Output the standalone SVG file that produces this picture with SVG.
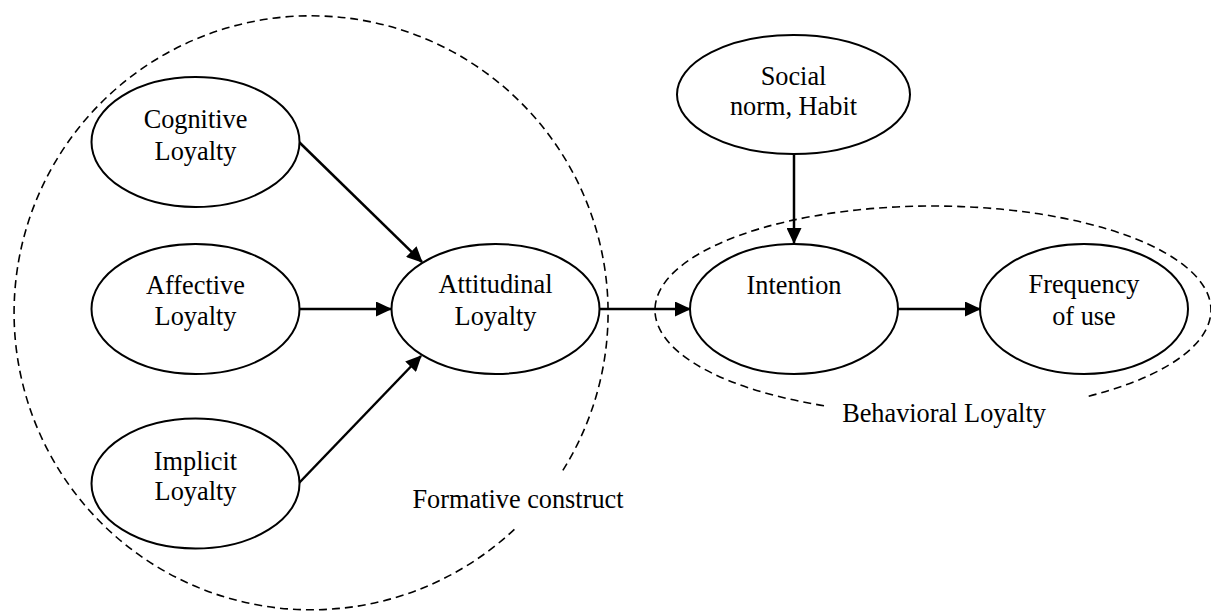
<svg xmlns="http://www.w3.org/2000/svg" width="1211" height="612" viewBox="0 0 1211 612">
<style>
.node{fill:#fff;stroke:#000;stroke-width:2}
.lbl{font-family:"Liberation Serif","Times New Roman",serif;font-size:26.3px;fill:#000;text-anchor:middle}
.dash{fill:none;stroke:#000;stroke-width:1.6;stroke-dasharray:8 5}
.arr{stroke:#000;stroke-width:2.5;fill:none;marker-end:url(#ah)}
</style>
<defs>
<marker id="ah" markerUnits="userSpaceOnUse" markerWidth="16" markerHeight="15" refX="15" refY="7.5" orient="auto">
<path d="M0,0 L16,7.5 L0,15 z" fill="#000"/>
</marker>
</defs>
<rect width="1211" height="612" fill="#fff"/>
<g id="groups">
<path class="dash" d="M514.4 529.3 A297 297 0 1 1 562 471.7"/>
<text class="lbl" x="518" y="508">Formative construct</text>
<path class="dash" d="M824 405.7 A278 104 0 1 1 1087 396.6"/>
<text class="lbl" x="944" y="422">Behavioral Loyalty</text>
</g>
<g id="connectors">
<line class="arr" x1="299" y1="142" x2="422" y2="262"/>
<line class="arr" x1="299" y1="309" x2="391" y2="309"/>
<line class="arr" x1="299" y1="483" x2="421" y2="356"/>
<line class="arr" x1="600" y1="309" x2="690" y2="309"/>
<line class="arr" x1="898" y1="309" x2="980" y2="309"/>
<line class="arr" x1="794" y1="154" x2="794" y2="243"/>
</g>
<g id="cognitive">
<ellipse class="node" cx="195.5" cy="142" rx="104" ry="65"/>
<text class="lbl" x="195.5" y="128">Cognitive</text>
<text class="lbl" x="195.5" y="160">Loyalty</text>
</g>
<g id="affective">
<ellipse class="node" cx="195.5" cy="309" rx="104" ry="65"/>
<text class="lbl" x="195.5" y="294">Affective</text>
<text class="lbl" x="195.5" y="325">Loyalty</text>
</g>
<g id="implicit">
<ellipse class="node" cx="195.5" cy="483.5" rx="104" ry="65"/>
<text class="lbl" x="195.5" y="470">Implicit</text>
<text class="lbl" x="195.5" y="500">Loyalty</text>
</g>
<g id="attitudinal">
<ellipse class="node" cx="495.5" cy="309" rx="104" ry="65"/>
<text class="lbl" x="495.5" y="293">Attitudinal</text>
<text class="lbl" x="495.5" y="325">Loyalty</text>
</g>
<g id="social">
<ellipse class="node" cx="793.5" cy="94.5" rx="116.5" ry="59.5"/>
<text class="lbl" x="793.5" y="85">Social</text>
<text class="lbl" x="793.5" y="115">norm, Habit</text>
</g>
<g id="intention">
<ellipse class="node" cx="794" cy="309" rx="104" ry="65"/>
<text class="lbl" x="794" y="294">Intention</text>
</g>
<g id="frequency">
<ellipse class="node" cx="1084" cy="309" rx="104" ry="65"/>
<text class="lbl" x="1084" y="293">Frequency</text>
<text class="lbl" x="1084" y="325">of use</text>
</g>
</svg>
